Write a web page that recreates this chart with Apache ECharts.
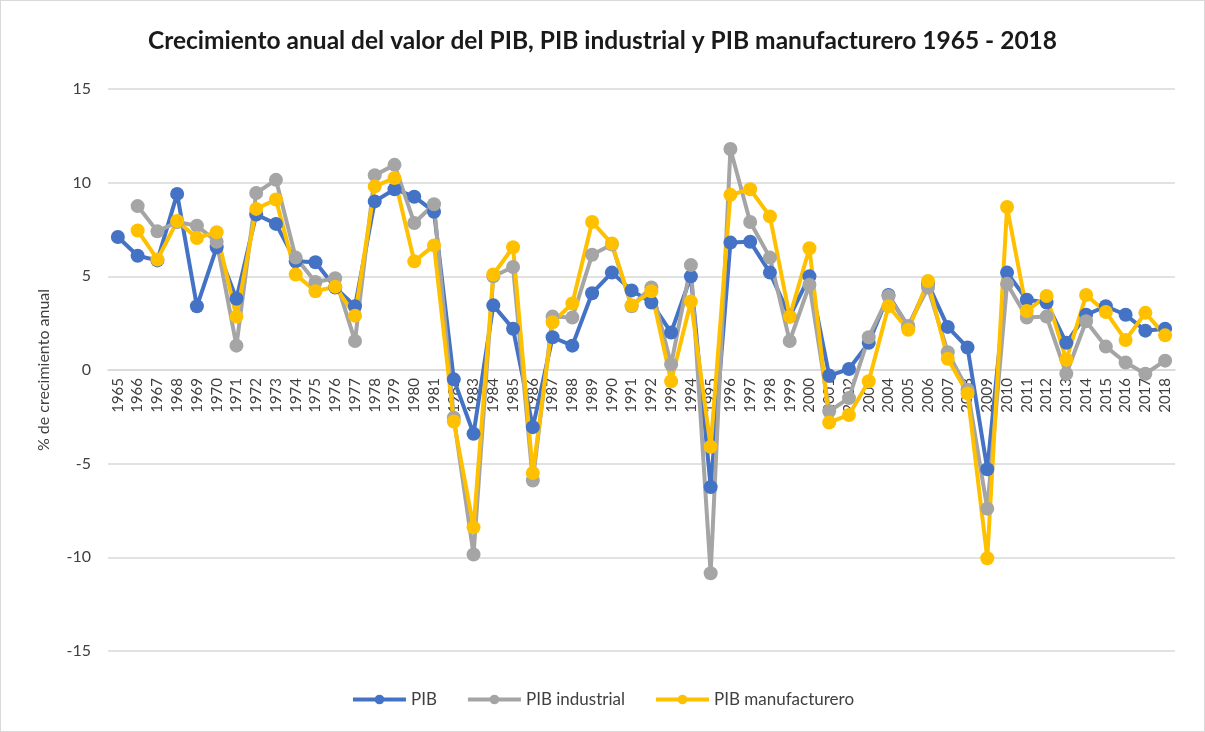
<!DOCTYPE html>
<html>
<head>
<meta charset="utf-8">
<script src="https://cdn.jsdelivr.net/npm/echarts@6/dist/echarts.min.js"></script>
<style>
  html, body { margin: 0; padding: 0; background: #fff; }
  #chart { width: 1205px; height: 732px; box-sizing: border-box; border: 1px solid #d9d9d9; }
</style>
</head>
<body>
<div id="chart"></div>
<script>
const years = [
  '1965','1966','1967','1968','1969','1970','1971','1972','1973','1974',
  '1975','1976','1977','1978','1979','1980','1981','1982','1983','1984',
  '1985','1986','1987','1988','1989','1990','1991','1992','1993','1994',
  '1995','1996','1997','1998','1999','2000','2001','2002','2003','2004',
  '2005','2006','2007','2008','2009','2010','2011','2012','2013','2014',
  '2015','2016','2017','2018'
]

// % growth
const pib = [
  7.1, 6.1, 5.85, 9.4, 3.4, 6.55, 3.8, 8.3, 7.8, 5.8,
  5.75, 4.4, 3.4, 9.0, 9.65, 9.25, 8.45, -0.5, -3.4, 3.45,
  2.2, -3.05, 1.75, 1.3, 4.1, 5.2, 4.25, 3.6, 2.0, 5.0,
  -6.25, 6.8, 6.85, 5.2, 2.85, 5.0, -0.3, 0.05, 1.45, 4.0,
  2.3, 4.6, 2.3, 1.2, -5.3, 5.2, 3.75, 3.6, 1.45, 2.95,
  3.4, 2.95, 2.1, 2.2
]

const pibIndustrial = [
  null, 8.75, 7.4, 7.9, 7.7, 6.85, 1.3, 9.45, 10.15, 6.0,
  4.7, 4.9, 1.55, 10.4, 10.95, 7.85, 8.85, -2.55, -9.85, 5.0,
  5.5, -5.9, 2.85, 2.8, 6.15, 6.7, 3.4, 4.4, 0.3, 5.6,
  -10.85, 11.8, 7.9, 6.0, 1.55, 4.55, -2.2, -1.5, 1.75, 3.95,
  2.35, 4.4, 0.95, -1.05, -7.4, 4.6, 2.8, 2.85, -0.2, 2.6,
  1.25, 0.4, -0.2, 0.5
]

const pibManufacturero = [
  null, 7.45, 5.9, 7.95, 7.05, 7.35, 2.85, 8.6, 9.1, 5.1,
  4.2, 4.45, 2.9, 9.8, 10.25, 5.8, 6.65, -2.75, -8.4, 5.1,
  6.55, -5.5, 2.55, 3.55, 7.9, 6.75, 3.45, 4.2, -0.6, 3.65,
  -4.1, 9.35, 9.65, 8.2, 2.85, 6.5, -2.8, -2.4, -0.6, 3.4,
  2.15, 4.75, 0.6, -1.25, -10.05, 8.7, 3.15, 3.95, 0.55, 4.0,
  3.1, 1.6, 3.05, 1.85
]

const seriesNames = ['PIB', 'PIB industrial', 'PIB manufacturero']
const seriesColors = ['#4472C4', '#A5A5A5', '#FFC000']
const seriesData = [pib, pibIndustrial, pibManufacturero]

const font = 'Lato, "Open Sans", sans-serif'
const textColor = '#404040'

// plot box: y from -15 to 15 over 562px, so the zero line sits 281px above the bottom
const gridTop = 88
const gridHeight = 562

const chart = echarts.init(document.getElementById('chart'), null, { renderer: 'canvas' })

chart.setOption({
  animation: false,
  backgroundColor: '#fff',
  textStyle: { fontFamily: font },
  title: {
    text: 'Crecimiento anual del valor del PIB, PIB industrial y PIB manufacturero 1965 - 2018',
    left: 'center',
    top: 23,
    textStyle: { fontFamily: font, fontSize: 24.5, fontWeight: 'bold', color: '#1a1a1a' }
  },
  legend: {
    data: seriesNames,
    left: 'center',
    top: 685,
    itemWidth: 53,
    itemHeight: 12,
    itemGap: 29,
    lineStyle: { width: 4 },
    textStyle: { fontFamily: font, fontSize: 17, color: textColor }
  },
  grid: { left: 107, right: 29, top: gridTop, height: gridHeight, containLabel: false },
  xAxis: {
    type: 'category',
    data: years,
    boundaryGap: true,
    position: 'bottom',
    offset: -gridHeight / 2,
    axisLine: { onZero: false, lineStyle: { color: '#d9d9d9', width: 1.5 } },
    axisTick: { show: false },
    axisLabel: {
      interval: 0,
      rotate: 90,
      margin: 8,
      fontSize: 15,
      color: textColor,
      fontFamily: font
    },
    splitLine: { show: false }
  },
  yAxis: {
    type: 'value',
    min: -15,
    max: 15,
    interval: 5,
    name: '% de crecimiento anual',
    nameLocation: 'middle',
    nameGap: 56,
    nameTextStyle: { fontFamily: font, fontSize: 16, color: textColor },
    axisLine: { show: false },
    axisTick: { show: false },
    axisLabel: { fontSize: 16, color: textColor, margin: 17, fontFamily: font },
    splitLine: { lineStyle: { color: '#d9d9d9', width: 1.5 } }
  },
  series: seriesNames.map((name, i) => ({
    name,
    type: 'line',
    data: seriesData[i],
    symbol: 'circle',
    symbolSize: 14,
    showAllSymbol: true,
    connectNulls: false,
    lineStyle: { width: 4, color: seriesColors[i] },
    itemStyle: { color: seriesColors[i] },
    emphasis: { disabled: true }
  }))
})
</script>
</body>
</html>
